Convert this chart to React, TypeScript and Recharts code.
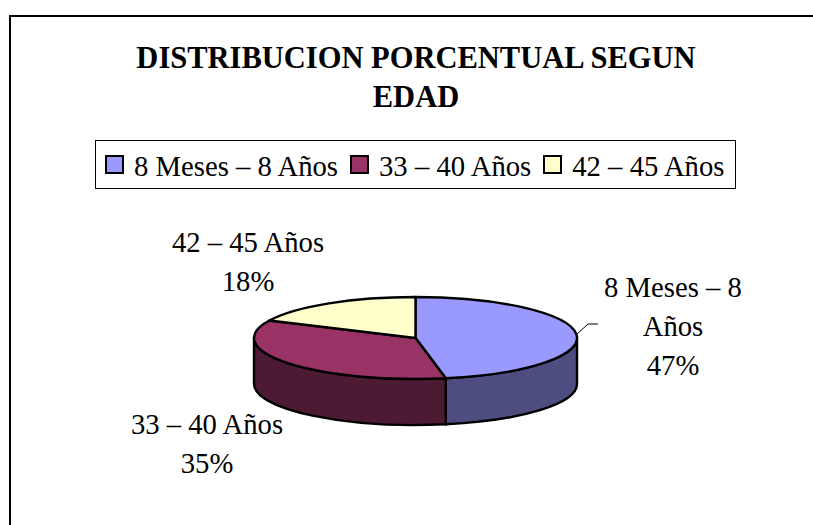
import { PieChart, Pie, Cell, Legend } from 'recharts';

const ageGroups = ['8 Meses – 8 Años', '33 – 40 Años', '42 – 45 Años'];
const shares = [47, 35, 18];
const topColors = ['#9999FF', '#993366', '#FFFFCC'];
const wallColors = ['#4D4D80', '#4D1A33', '#808066'];
const titleLines = ['DISTRIBUCION PORCENTUAL SEGUN', 'EDAD'];

const data = ageGroups.map((name, i) => ({ name, value: shares[i] }));

const FONT = '"Liberation Serif", "Times New Roman", serif';
const TEXT_SIZE = 28.7;
const TILT = 41 / 161.5;
const DEPTH = 46;

const toRad = (deg: number) => (deg * Math.PI) / 180;

// flattens a normal pie sector into a 3D looking disc slice
function DiscSlice(props: any) {
  const { cx, cy, outerRadius: r, startAngle, endAngle, fill, index } = props;
  const rx = r;
  const ry = r * TILT;
  const pt = (a: number, dy = 0) => [cx + rx * Math.cos(toRad(a)), cy - ry * Math.sin(toRad(a)) + dy];
  const [sx, sy] = pt(startAngle);
  const [ex, ey] = pt(endAngle);
  const large = Math.abs(startAngle - endAngle) > 180 ? 1 : 0;
  const top = `M${cx},${cy} L${sx},${sy} A${rx},${ry} 0 ${large} 1 ${ex},${ey} Z`;

  // only the part of the rim in the lower half is visible
  const wallFrom = Math.min(startAngle, 0);
  const wallTo = Math.max(endAngle, -180);
  let wall = null;
  if (wallFrom > wallTo) {
    const [ax, ay] = pt(wallFrom);
    const [bx, by] = pt(wallTo);
    const [cx2, cy2] = pt(wallTo, DEPTH);
    const [dx, dy] = pt(wallFrom, DEPTH);
    wall = (
      <path
        d={`M${ax},${ay} A${rx},${ry} 0 0 1 ${bx},${by} L${cx2},${cy2} A${rx},${ry} 0 0 0 ${dx},${dy} Z`}
        fill={wallColors[index]}
        stroke="#000"
        strokeWidth={2.4}
      />
    );
  }
  return (
    <g>
      {wall}
      <path d={top} fill={fill} stroke="#000" strokeWidth={2.4} strokeLinejoin="round" />
    </g>
  );
}

const labelSpots = [
  { x: 673, y: 297, lines: ['8 Meses – 8', 'Años'] },
  { x: 207, y: 434, lines: ['33 – 40 Años'] },
  { x: 248, y: 252, lines: ['42 – 45 Años'] },
];

function SliceLabel(props: any) {
  const spot = labelSpots[props.index];
  const lines = [...spot.lines, `${shares[props.index]}%`];
  return (
    <text textAnchor="middle" fontFamily={FONT} fontSize={TEXT_SIZE} fill="#000">
      {lines.map((t, i) => (
        <tspan key={i} x={spot.x} y={spot.y + i * 39}>
          {t}
        </tspan>
      ))}
    </text>
  );
}

function SliceLeader(props: any) {
  if (props.index !== 0) return <g />;
  return <polyline points="576,335 588,324 598,324" fill="none" stroke="#000" strokeWidth={1} />;
}

function LegendBox(props: any) {
  return (
    <div
      style={{
        display: 'flex',
        alignItems: 'center',
        boxSizing: 'border-box',
        width: 641,
        height: 49,
        paddingLeft: 9,
        background: '#fff',
        border: '1px solid #000',
        fontFamily: FONT,
        fontSize: TEXT_SIZE,
        color: '#000',
        whiteSpace: 'nowrap',
      }}
    >
      {props.payload.map((item: any, i: number) => (
        <span key={i} style={{ display: 'flex', alignItems: 'center', marginRight: 12 }}>
          <span
            style={{
              display: 'inline-block',
              boxSizing: 'border-box',
              width: 19,
              height: 19,
              marginRight: 10,
              background: item.color,
              border: '2px solid #000',
            }}
          />
          <span style={{ position: 'relative', top: 2 }}>{item.value}</span>
        </span>
      ))}
    </div>
  );
}

export default function App() {
  return (
    <div style={{ position: 'absolute', left: 0, top: 0, width: 813, height: 525, background: '#fff', overflow: 'hidden' }}>
      <div
        style={{
          position: 'absolute',
          left: 9,
          top: 15,
          width: 804,
          height: 510,
          borderLeft: '2px solid #000',
          borderTop: '2px solid #000',
        }}
      />
      <div style={{ position: 'absolute', left: 0, top: 0 }}>
        <PieChart width={813} height={525} margin={{ top: 0, right: 0, bottom: 0, left: 0 }}>
          <text textAnchor="middle" fontFamily={FONT} fontSize={30.5} fontWeight="bold" fill="#000">
            {titleLines.map((t, i) => (
              <tspan key={i} x={416} y={68 + i * 39}>
                {t}
              </tspan>
            ))}
          </text>
          <Legend
            content={LegendBox}
            itemSorter={null}
            wrapperStyle={{ position: 'absolute', left: 95, top: 140, width: 641, bottom: 'auto' }}
          />
          <Pie
            data={data}
            dataKey="value"
            nameKey="name"
            cx={415.5}
            cy={338}
            innerRadius={0}
            outerRadius={161.5}
            startAngle={90}
            endAngle={-270}
            stroke="#000"
            shape={DiscSlice}
            label={SliceLabel}
            labelLine={SliceLeader}
            isAnimationActive={false}
          >
            {data.map((d, i) => (
              <Cell key={d.name} fill={topColors[i]} />
            ))}
          </Pie>
        </PieChart>
      </div>
    </div>
  );
}
